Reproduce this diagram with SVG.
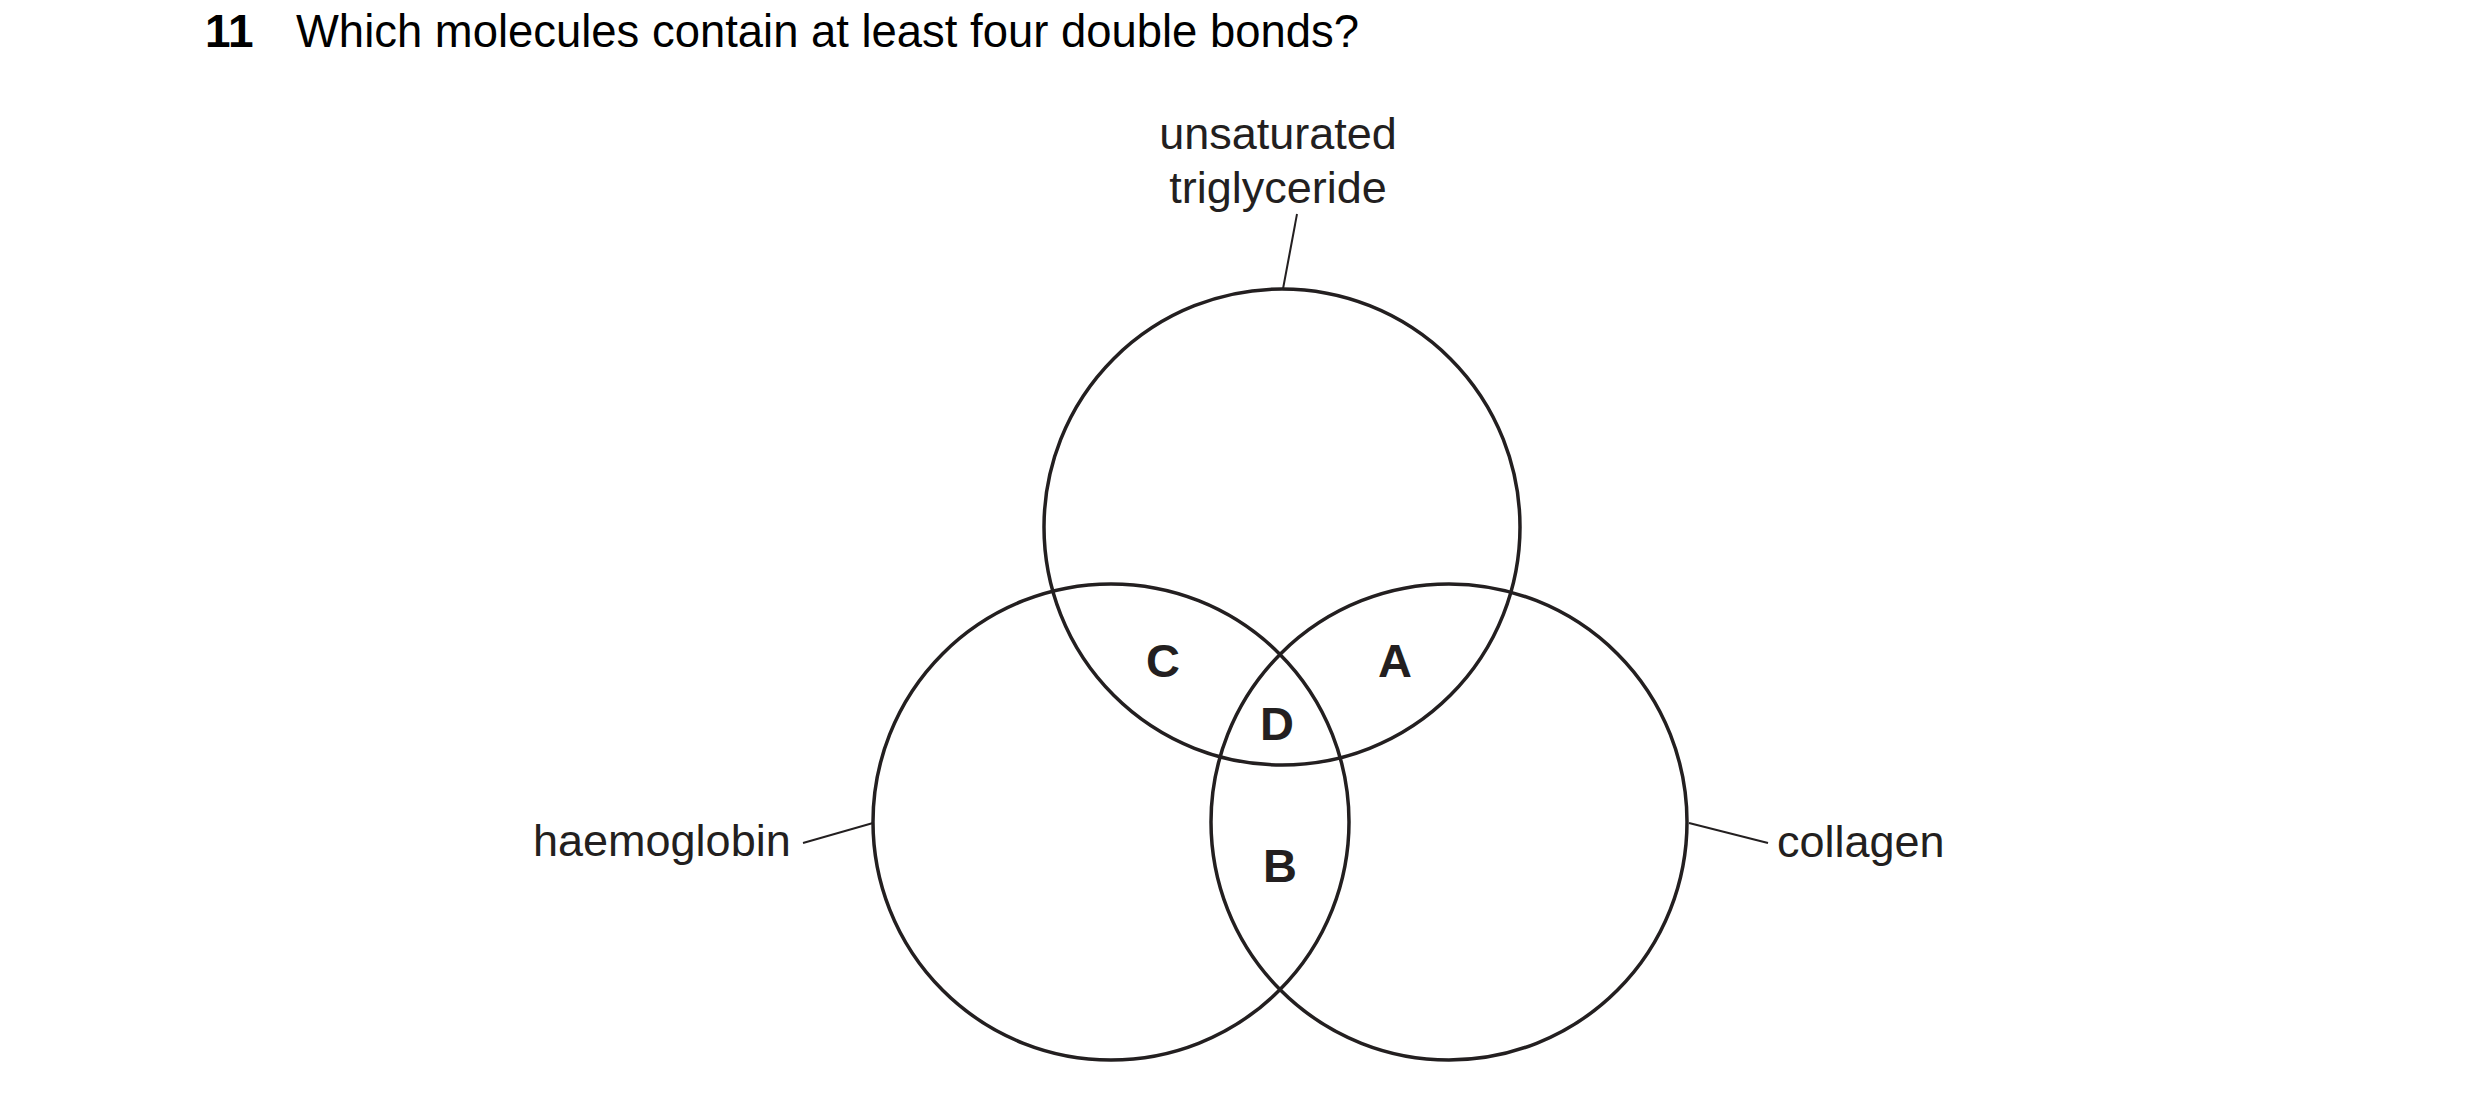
<svg xmlns="http://www.w3.org/2000/svg" width="2480" height="1102" viewBox="0 0 2480 1102">
<style>
.t{font-family:"Liberation Sans",Arial,sans-serif;font-size:45px;fill:#231f20}
.q{font-family:"Liberation Sans",Arial,sans-serif;font-size:46px;fill:#000}
.b{font-family:"Liberation Sans",Arial,sans-serif;font-size:47px;font-weight:bold;fill:#231f20;text-anchor:middle}
.c{fill:none;stroke:#231f20;stroke-width:3.5}
.l{fill:none;stroke:#231f20;stroke-width:2}
</style>
<rect width="2480" height="1102" fill="#fff"/>
<g id="title">
<text class="q" x="205" y="47" font-weight="bold">11</text>
<text class="q" x="296" y="47" textLength="1063" lengthAdjust="spacingAndGlyphs">Which molecules contain at least four double bonds?</text>
</g>
<g id="triglyceride">
<circle class="c" cx="1282" cy="527" r="238"/>
<text class="t" x="1278" y="149" text-anchor="middle">unsaturated</text>
<text class="t" x="1278" y="203" text-anchor="middle">triglyceride</text>
</g>
<g id="haemoglobin">
<circle class="c" cx="1111" cy="822" r="238"/>
<text class="t" x="533" y="856">haemoglobin</text>
</g>
<g id="collagen">
<circle class="c" cx="1449" cy="822" r="238"/>
<text class="t" x="1777" y="857">collagen</text>
</g>
<g id="connectors">
<line class="l" x1="1297" y1="214" x2="1283" y2="289"/>
<line class="l" x1="803" y1="843" x2="873" y2="823"/>
<line class="l" x1="1689" y1="823" x2="1768" y2="843"/>
</g>
<g id="regions">
<text class="b" x="1395" y="677">A</text>
<text class="b" x="1280" y="882">B</text>
<text class="b" x="1163" y="677">C</text>
<text class="b" x="1277" y="740">D</text>
</g>
</svg>
